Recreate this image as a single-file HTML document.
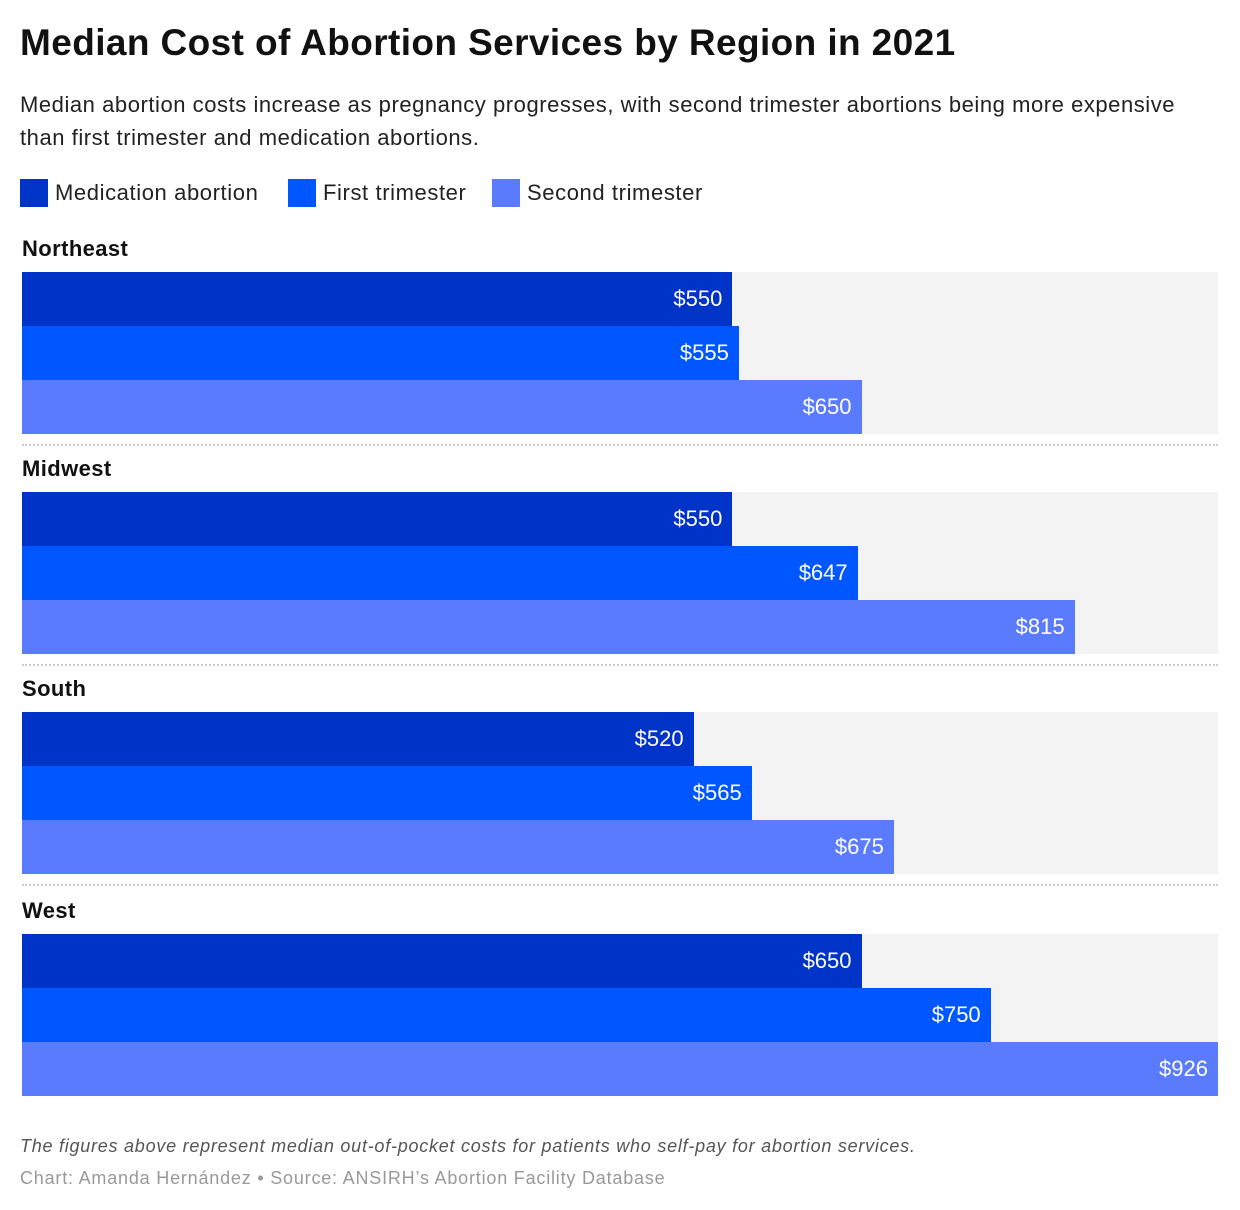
<!DOCTYPE html>
<html><head><meta charset="utf-8"><style>
body{margin:0;width:1240px;height:1210px;background:#fff;font-family:"Liberation Sans",sans-serif;position:relative;overflow:hidden}
.abs{position:absolute}
h1{position:absolute;left:20px;top:22px;margin:0;font-size:37px;font-weight:bold;color:#111;letter-spacing:0.4px}
.sub{left:20px;top:88px;font-size:22px;line-height:33px;color:#222;width:1190px;letter-spacing:0.55px}
.leg{top:179px;font-size:22px;color:#222;display:flex;align-items:center;letter-spacing:0.6px}
.leg i{display:inline-block;width:28px;height:28px;margin-right:7px}
.rl{font-weight:bold;font-size:22px;color:#111;left:22px;letter-spacing:0.4px}
.val{color:#fff;font-size:22px;text-align:right}
</style></head><body>
<h1>Median Cost of Abortion Services by Region in 2021</h1>
<div class="abs sub">Median abortion costs increase as pregnancy progresses, with second trimester abortions being more expensive<br>than first trimester and medication abortions.</div>
<div class="abs leg" style="left:20px"><i style="background:#0033c8"></i>Medication abortion</div>
<div class="abs leg" style="left:288px"><i style="background:#0057ff"></i>First trimester</div>
<div class="abs leg" style="left:492px"><i style="background:#5b7bff"></i>Second trimester</div>
<div id="chart"></div>
<div class="abs" style="left:20px;top:1136px;font-size:18px;font-style:italic;color:#555;letter-spacing:0.75px">The figures above represent median out-of-pocket costs for patients who self-pay for abortion services.</div>
<div class="abs" style="left:20px;top:1168px;font-size:18px;color:#999;letter-spacing:0.8px">Chart: Amanda Hernández • Source: ANSIRH’s Abortion Facility Database</div>
<script>
const regions=["Northeast","Midwest","South","West"];
const medication=[550,550,520,650];
const firstTri=[555,647,565,750];
const secondTri=[650,815,675,926];
const maxVal=926;
const colors=["#0033c8","#0057ff","#5b7bff"];
const x0=22,plotW=1196,barH=54;
const groupTop=[272,492,712,934];
function xs(v){return v/maxVal*plotW;}
const c=document.getElementById('chart');
regions.forEach((r,i)=>{
  const top=groupTop[i];
  const lab=document.createElement('div');
  lab.className='abs rl';lab.style.top=(top-36)+'px';lab.textContent=r;
  
  
  c.appendChild(lab);
  const bg=document.createElement('div');
  bg.className='abs';bg.style.cssText=`left:${x0}px;top:${top}px;width:${plotW}px;height:${barH*3}px;background:#f3f3f3`;
  
  
  c.appendChild(bg);
  [medication[i],firstTri[i],secondTri[i]].forEach((v,j)=>{
    const b=document.createElement('div');
    const w=xs(v);
    b.className='abs';b.style.cssText=`left:${x0}px;top:${top+j*barH}px;width:${w}px;height:${barH}px;background:${colors[j]}`;
    
    
    c.appendChild(b);
    const t=document.createElement('div');
    t.className='abs val';t.style.cssText=`left:${x0}px;width:${w-10}px;top:${top+j*barH+14}px`;
    t.textContent='$'+v;
    
    
    c.appendChild(t);
  });
  if(i<regions.length-1){
    const s=document.createElement('div');
    s.className='abs';s.style.cssText=`left:${x0}px;top:${top+barH*3+10}px;width:${plotW}px;border-top:2px dotted #ccc`;
    
    
    c.appendChild(s);
  }
});
</script>
</body></html>
